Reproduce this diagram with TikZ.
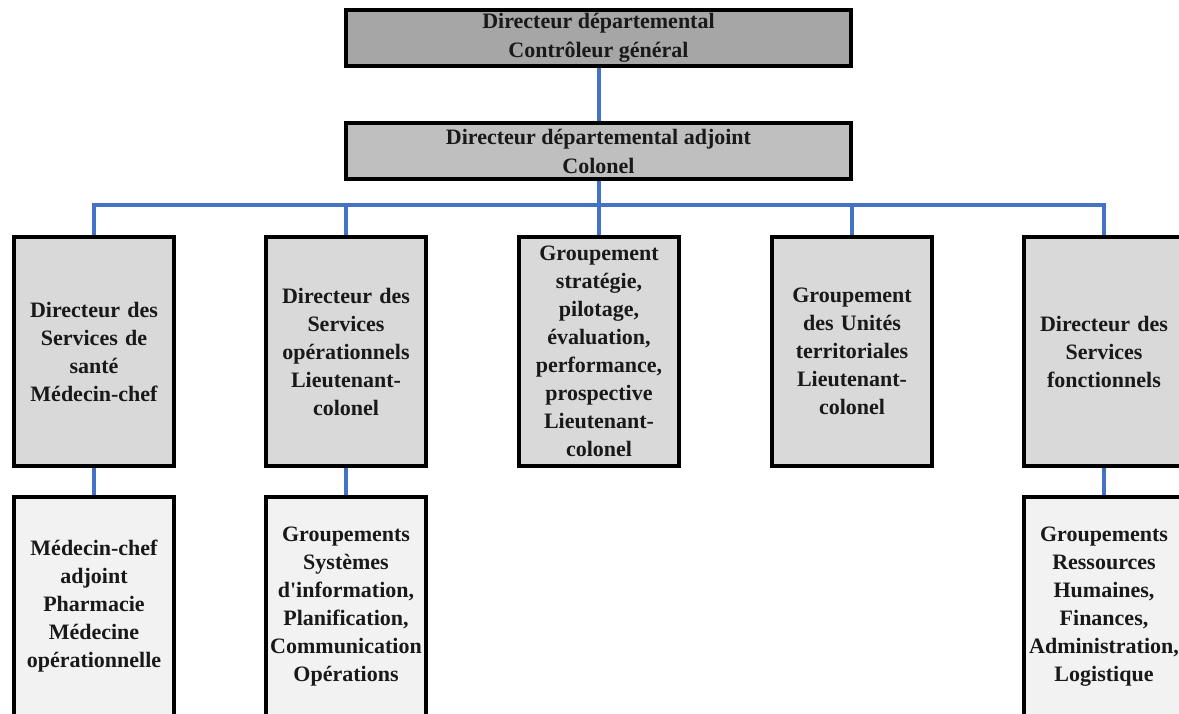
\documentclass[tikz,border=0pt]{standalone}
\usepackage{fontspec}
\setmainfont{Liberation Serif}[Ligatures=TeXOff]
\usetikzlibrary{backgrounds}
\definecolor{connblue}{HTML}{4472C4}
\definecolor{fillA}{HTML}{A6A6A6}
\definecolor{fillB}{HTML}{BFBFBF}
\definecolor{fillC}{HTML}{D9D9D9}
\definecolor{fillD}{HTML}{F2F2F2}
\tikzset{
  box/.style={draw=black, line width=4.5pt, rectangle, align=center, inner sep=2pt,
    font=\fontsize{22}{28}\selectfont\bfseries, text=black!90},
  wide/.style={box, minimum width=505pt, minimum height=56pt, font=\fontsize{22}{29}\selectfont\bfseries},
  col/.style={box, minimum width=160pt, text width=156pt},
  conn/.style={draw=connblue, line width=4pt}
}
\begin{document}
\begin{tikzpicture}[x=1pt,y=-1pt]
\clip (0,0) rectangle (1179,713);
\node[wide, fill=fillA] (dir) at (598.5,38) {Directeur départemental\\Contrôleur général};
\node[wide, fill=fillB] (adj) at (598.5,151) {Directeur départemental adjoint\\Colonel};
\node[col, fill=fillC, minimum height=229pt] (b1) at (94,351.5) {Directeur des\\Services de\\santé\\Médecin-chef};
\node[col, fill=fillC, minimum height=229pt] (b2) at (346,351.5) {Directeur des\\Services\\opérationnels\\Lieutenant-\\colonel};
\node[col, fill=fillC, minimum height=229pt] (b3) at (599,351.5) {Groupement\\stratégie,\\pilotage,\\évaluation,\\performance,\\prospective\\Lieutenant-\\colonel};
\node[col, fill=fillC, minimum height=229pt] (b4) at (852,351.5) {Groupement\\des Unités\\territoriales\\Lieutenant-\\colonel};
\node[col, fill=fillC, minimum height=229pt] (b5) at (1104,351.5) {Directeur des\\Services\\fonctionnels};
\node[col, fill=fillD, minimum height=219pt] (c1) at (94,606.5) {Médecin-chef\\adjoint\\Pharmacie\\Médecine\\opérationnelle};
\node[col, fill=fillD, minimum height=219pt] (c2) at (346,606.5) {Groupements\\Systèmes\\d'information,\\Planification,\\Communication\\Opérations};
\node[col, fill=fillD, minimum height=219pt] (c5) at (1104,606.5) {Groupements\\Ressources\\Humaines,\\Finances,\\Administration,\\Logistique};
\coordinate (bus) at (598.5,205);
\begin{scope}[on background layer]
\fill[white] (0,0) rectangle (1179,713);
\draw[conn] (dir.south) -- (adj.north);
\draw[conn] (adj.south) -- (bus);
\draw[conn] (b1.north) -- (b1.north |- bus) -- (b5.north |- bus) -- (b5.north);
\draw[conn] (b2.north) -- (b2.north |- bus);
\draw[conn] (b3.north) -- (b3.north |- bus);
\draw[conn] (b4.north) -- (b4.north |- bus);
\draw[conn] (b1.south) -- (c1.north);
\draw[conn] (b2.south) -- (c2.north);
\draw[conn] (b5.south) -- (c5.north);
\end{scope}
\end{tikzpicture}
\end{document}
